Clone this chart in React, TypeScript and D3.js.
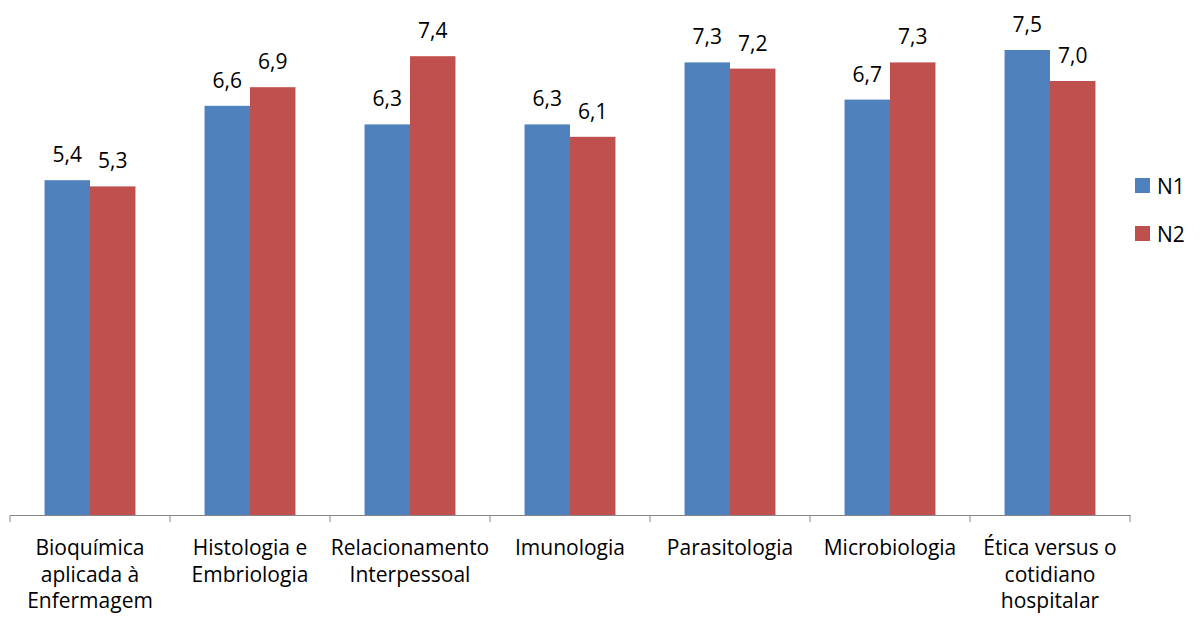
import { useEffect, useRef } from 'react';
import * as d3 from 'd3';

const categories = [
  'Bioquímica aplicada à Enfermagem',
  'Histologia e Embriologia',
  'Relacionamento Interpessoal',
  'Imunologia',
  'Parasitologia',
  'Microbiologia',
  'Ética versus o cotidiano hospitalar',
];

// how each category label wraps under the axis
const categoryLines = [
  ['Bioquímica', 'aplicada à', 'Enfermagem'],
  ['Histologia e', 'Embriologia'],
  ['Relacionamento', 'Interpessoal'],
  ['Imunologia'],
  ['Parasitologia'],
  ['Microbiologia'],
  ['Ética versus o', 'cotidiano', 'hospitalar'],
];

const seriesNames = ['N1', 'N2'];
const n1Values = [5.4, 6.6, 6.3, 6.3, 7.3, 6.7, 7.5];
const n2Values = [5.3, 6.9, 7.4, 6.1, 7.2, 7.3, 7.0];
const seriesColors = ['#4F81BD', '#C0504D'];

export default function App() {
  const svgRef = useRef<SVGSVGElement>(null);

  useEffect(() => {
    const width = 1203;
    const height = 618;
    const font = '"Open Sans", sans-serif';

    const svg = d3.select(svgRef.current);
    svg.selectAll('*').remove();
    svg.attr('width', width).attr('height', height);

    const axisLeft = 10;
    const axisRight = 1130;
    const baseline = 515;
    const plotTop = 19;

    const x0 = d3.scaleBand().domain(categories).range([axisLeft, axisRight]).padding(0);
    const x1 = d3.scaleBand().domain(seriesNames).range([0, x0.bandwidth()]).paddingInner(0).paddingOuter(0.76);
    const y = d3.scaleLinear().domain([0, 8]).range([baseline, plotTop]);
    const color = d3.scaleOrdinal<string>().domain(seriesNames).range(seriesColors);
    const fmt = (v: number) => d3.format('.1f')(v).replace('.', ',');

    const rows = categories.map((c, i) => ({
      cat: c,
      values: [
        { key: 'N1', value: n1Values[i] },
        { key: 'N2', value: n2Values[i] },
      ],
    }));

    // barras
    const groups = svg.append('g')
      .selectAll('g')
      .data(rows)
      .enter()
      .append('g')
      .attr('transform', d => `translate(${x0(d.cat)},0)`);

    groups.selectAll('rect')
      .data(d => d.values)
      .enter()
      .append('rect')
      .attr('x', d => x1(d.key)!)
      .attr('y', d => y(d.value))
      .attr('width', x1.bandwidth())
      .attr('height', d => baseline - y(d.value))
      .attr('fill', d => color(d.key));

    // rótulos de valor
    groups.selectAll('text')
      .data(d => d.values)
      .enter()
      .append('text')
      .attr('x', d => x1(d.key)! + x1.bandwidth() / 2)
      .attr('y', d => y(d.value) - 18)
      .attr('text-anchor', 'middle')
      .attr('font-family', font)
      .attr('font-size', 21)
      .attr('fill', '#000')
      .text(d => fmt(d.value));

    // eixo x
    const axis = svg.append('g').attr('transform', `translate(0,${baseline})`);
    axis.call(d3.axisBottom(x0).tickSize(0).tickFormat(() => ''));
    axis.select('.domain').attr('stroke', '#868686').attr('stroke-width', 1);

    const tickPositions = categories.map(c => x0(c)!).concat([axisRight]);
    axis.selectAll('line.tk')
      .data(tickPositions)
      .enter()
      .append('line')
      .attr('class', 'tk')
      .attr('x1', d => d)
      .attr('x2', d => d)
      .attr('y1', 0)
      .attr('y2', 7)
      .attr('stroke', '#868686');

    // rótulos das categorias
    categories.forEach((c, i) => {
      const t = svg.append('text')
        .attr('text-anchor', 'middle')
        .attr('font-family', font)
        .attr('font-size', 21)
        .attr('fill', '#000');
      categoryLines[i].forEach((line, j) => {
        t.append('tspan')
          .attr('x', x0(c)! + x0.bandwidth() / 2)
          .attr('y', 555 + j * 26.5)
          .text(line);
      });
    });

    // legenda
    const legend = svg.append('g').attr('transform', 'translate(1135,178)');
    seriesNames.forEach((s, i) => {
      const g = legend.append('g').attr('transform', `translate(0,${i * 48})`);
      g.append('rect').attr('width', 15).attr('height', 15).attr('fill', color(s));
      g.append('text')
        .attr('x', 22)
        .attr('y', 16)
        .attr('font-family', font)
        .attr('font-size', 21)
        .attr('fill', '#000')
        .text(s);
    });
  }, []);

  return <svg ref={svgRef} style={{ position: 'absolute', left: 0, top: 0 }} />;
}
